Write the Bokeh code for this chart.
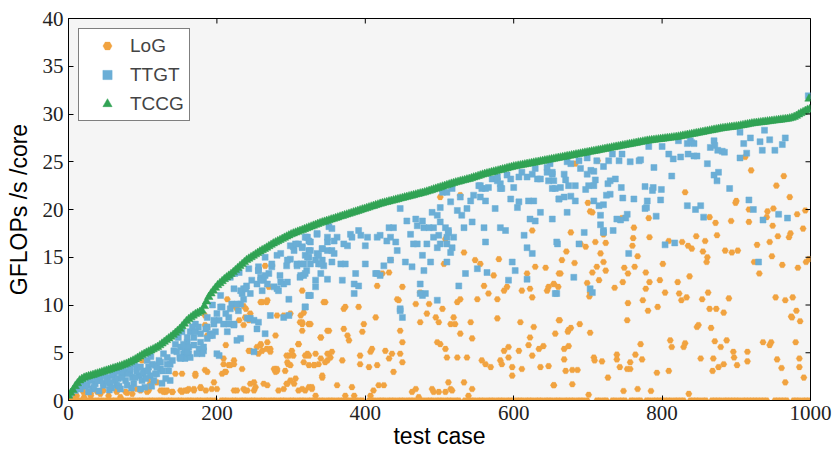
import math
from bokeh.plotting import figure
from bokeh.models import Range1d, FixedTicker, ColumnDataSource
from bokeh.embed import file_html
from bokeh.resources import INLINE

# ---------------- data ----------------
x_ticks = [0, 200, 400, 600, 800, 1000]
y_ticks = [0, 5, 10, 15, 20, 25, 30, 35, 40]

# TCCG: one value every 3 test cases (0..999), plus the last outlier at 998
tccg_case = list(range(0, 1000, 3)) + [998]
tccg_gflops = [
    0.5, 0.8, 1.1, 1.5, 1.8, 2.1, 2.25, 2.38, 2.47, 2.54,
    2.6, 2.67, 2.75, 2.82, 2.9, 2.97, 3.05, 3.12, 3.2, 3.27,
    3.35, 3.42, 3.5, 3.57, 3.66, 3.75, 3.84, 3.94, 4.06, 4.18,
    4.3, 4.45, 4.6, 4.75, 4.88, 5.0, 5.12, 5.24, 5.36, 5.48,
    5.6, 5.78, 5.96, 6.14, 6.32, 6.5, 6.68, 6.87, 7.08, 7.29,
    7.5, 7.77, 8.04, 8.31, 8.52, 8.7, 8.88, 9.04, 9.16, 9.28,
    9.4, 9.88, 10.36, 10.84, 11.2, 11.5, 11.8, 12.07, 12.28, 12.49,
    12.7, 12.88, 13.06, 13.24, 13.44, 13.65, 13.86, 14.07, 14.28, 14.49,
    14.7, 14.85, 15.0, 15.15, 15.3, 15.45, 15.6, 15.74, 15.86, 16.0,
    16.15, 16.3, 16.44, 16.56, 16.68, 16.8, 16.92, 17.04, 17.16, 17.28,
    17.4, 17.49, 17.58, 17.67, 17.76, 17.85, 17.94, 18.03, 18.12, 18.21,
    18.3, 18.39, 18.48, 18.57, 18.65, 18.72, 18.8, 18.87, 18.95, 19.02,
    19.1, 19.17, 19.25, 19.32, 19.4, 19.47, 19.55, 19.62, 19.7, 19.77,
    19.85, 19.92, 20.0, 20.07, 20.15, 20.22, 20.3, 20.37, 20.45, 20.52,
    20.6, 20.66, 20.72, 20.78, 20.84, 20.9, 20.96, 21.02, 21.08, 21.14,
    21.2, 21.26, 21.32, 21.38, 21.44, 21.5, 21.56, 21.62, 21.68, 21.74,
    21.8, 21.87, 21.95, 22.02, 22.1, 22.17, 22.25, 22.32, 22.4, 22.47,
    22.55, 22.62, 22.7, 22.77, 22.84, 22.9, 22.96, 23.02, 23.08, 23.14,
    23.2, 23.27, 23.35, 23.42, 23.5, 23.57, 23.65, 23.72, 23.78, 23.84,
    23.9, 23.96, 24.02, 24.08, 24.14, 24.2, 24.26, 24.32, 24.38, 24.44,
    24.5, 24.54, 24.59, 24.63, 24.68, 24.72, 24.77, 24.81, 24.86, 24.9,
    24.95, 24.99, 25.04, 25.08, 25.13, 25.17, 25.22, 25.26, 25.31, 25.35,
    25.4, 25.44, 25.49, 25.53, 25.58, 25.62, 25.67, 25.71, 25.76, 25.8,
    25.85, 25.89, 25.94, 25.98, 26.03, 26.07, 26.12, 26.16, 26.21, 26.25,
    26.3, 26.34, 26.39, 26.43, 26.48, 26.52, 26.57, 26.61, 26.66, 26.7,
    26.75, 26.79, 26.84, 26.88, 26.93, 26.97, 27.02, 27.06, 27.11, 27.15,
    27.2, 27.23, 27.26, 27.29, 27.32, 27.35, 27.38, 27.41, 27.44, 27.47,
    27.5, 27.53, 27.56, 27.59, 27.63, 27.67, 27.72, 27.76, 27.81, 27.85,
    27.9, 27.94, 27.99, 28.03, 28.08, 28.12, 28.17, 28.21, 28.26, 28.3,
    28.35, 28.39, 28.44, 28.48, 28.52, 28.55, 28.58, 28.61, 28.64, 28.67,
    28.7, 28.74, 28.79, 28.83, 28.88, 28.92, 28.97, 29.01, 29.04, 29.07,
    29.1, 29.13, 29.16, 29.19, 29.22, 29.25, 29.28, 29.31, 29.34, 29.37,
    29.4, 29.43, 29.46, 29.49, 29.54, 29.6, 29.69, 29.8, 29.95, 30.08,
    30.2, 30.32, 30.44, 30.5,
    31.6,
]

ttgt_case = [
    2, 9, 14, 16, 20, 25, 29, 32, 36, 38,
    43, 47, 52, 56, 59, 63, 65, 72, 77, 79,
    83, 86, 88, 92, 95, 99, 101, 103, 108, 110,
    115, 117, 119, 122, 124, 128, 133, 135, 137, 142,
    144, 148, 151, 155, 157, 160, 164, 169, 171, 175,
    178, 182, 187, 191, 196, 200, 203, 205, 209, 214,
    216, 220, 223, 229, 232, 234, 236, 240, 245, 247,
    254, 256, 259, 263, 268, 270, 274, 277, 281, 285,
    294, 299, 303, 308, 312, 321, 321, 324, 18, 23,
    30, 34, 39, 43, 47, 52, 56, 61, 67, 68,
    72, 75, 80, 83, 90, 92, 97, 101, 104, 107,
    113, 117, 119, 124, 127, 131, 133, 137, 140, 146,
    150, 157, 162, 27, 41, 55, 70, 85, 97, 112,
    126, 58, 49, 66, 74, 89, 106, 111, 153, 160,
    167, 171, 178, 185, 191, 198, 187, 196, 194, 207,
    212, 216, 223, 218, 227, 205, 232, 223, 218, 224,
    230, 239, 236, 245, 250, 256, 241, 254, 265, 232,
    250, 243, 256, 259, 265, 261, 256, 265, 274, 281,
    286, 286, 283, 290, 295, 297, 295, 299, 306, 304,
    310, 315, 308, 313, 313, 317, 324, 326, 319, 335,
    333, 335, 333, 324, 319, 322, 326, 342, 342, 337,
    344, 349, 349, 349, 351, 155, 162, 169, 176, 182,
    180, 173, 164, 160, 151, 187, 194, 200, 203, 227,
    272, 290, 297, 319, 335, 324, 315, 326, 342, 337,
    322, 317, 340, 319, 340, 333, 324, 326, 319, 349,
    355, 362, 358, 355, 358, 371, 376, 380, 382, 394,
    391, 367, 373, 355, 387, 385, 391, 385, 400, 403,
    400, 369, 416, 420, 429, 434, 441, 443, 434, 425,
    414, 420, 432, 438, 447, 456, 461, 468, 470, 477,
    479, 465, 470, 477, 454, 463, 479, 474, 481, 477,
    497, 447, 450, 488, 490, 497, 501, 492, 501, 508,
    512, 492, 501, 510, 519, 517, 515, 510, 504, 510,
    515, 517, 524, 528, 530, 533, 542, 544, 537, 546,
    553, 557, 562, 555, 562, 560, 562, 566, 571, 578,
    575, 582, 584, 582, 589, 591, 596, 600, 596, 607,
    605, 611, 618, 625, 632, 636, 645, 652, 647, 656,
    661, 620, 627, 622, 629, 636, 652, 614, 618, 625,
    658, 598, 602, 593, 618, 658, 564, 551, 535, 526,
    474, 447, 649, 645, 629, 607, 582, 578, 555, 483,
    486, 499, 497, 510, 512, 416, 652, 654, 652, 663,
    668, 670, 672, 677, 688, 690, 699, 699, 704, 708,
    710, 701, 708, 697, 683, 674, 661, 668, 677, 683,
    672, 708, 715, 721, 717, 717, 721, 730, 712, 721,
    728, 733, 746, 757, 769, 742, 737, 730, 727, 725,
    745, 747, 762, 753, 751, 744, 739, 695, 688, 659,
    681, 656, 703, 706, 755, 734, 721, 789, 777, 788,
    787, 799, 798, 780, 777, 779, 792, 804, 817, 813,
    771, 782, 800, 809, 815, 825, 835, 843, 847, 822,
    834, 838, 840, 843, 834, 845, 852, 856, 861, 865,
    870, 871, 875, 881, 884, 870, 876, 874, 891, 905,
    914, 910, 919, 932, 938, 935, 945, 952, 962, 966,
    917, 923, 930, 936, 957, 969, 905, 997,
]
ttgt_gflops = [
    0.7, 1.05, 1.75, 1.2, 2.1, 1.6, 2.1, 1.2, 1.75, 2.4,
    2.1, 1.6, 2.4, 1.75, 2.6, 2.1, 1.6, 2.8, 2.1, 1.6,
    3.0, 2.4, 1.75, 3.5, 2.6, 2.1, 3.1, 1.4, 3.5, 2.6,
    2.1, 3.7, 2.8, 4.2, 3.3, 4.9, 3.8, 3.1, 2.1, 5.2,
    5.9, 6.6, 5.6, 4.9, 4.4, 6.1, 7.2, 6.6, 8.0, 7.7,
    6.1, 5.2, 7.7, 6.8, 8.0, 9.1, 8.4, 9.8, 8.0, 7.2,
    8.7, 10.1, 8.0, 9.4, 10.1, 11.2, 11.7, 12.0, 11.2, 12.6,
    12.2, 13.6, 12.9, 12.6, 12.2, 13.3, 14.0, 11.9, 11.7, 13.1,
    14.1, 14.8, 16.1, 14.3, 12.9, 13.6, 17.1, 15.7, 1.9, 1.5,
    2.3, 1.4, 2.1, 2.6, 1.8, 2.0, 1.9, 2.8, 2.3, 1.5,
    2.4, 3.0, 2.8, 3.3, 2.4, 3.1, 3.5, 2.8, 2.3, 3.1,
    3.8, 2.8, 3.5, 4.0, 3.1, 2.3, 4.5, 3.8, 4.2, 5.1,
    4.5, 5.4, 4.9, 0.9, 1.0, 1.1, 1.2, 1.3, 1.2, 1.5,
    1.8, 1.3, 2.7, 3.0, 3.4, 3.8, 4.2, 4.6, 7.2, 6.6,
    7.7, 7.2, 7.0, 7.5, 7.0, 7.2, 8.7, 8.4, 10.0, 9.8,
    9.1, 8.0, 7.9, 9.6, 10.1, 11.0, 11.5, 11.7, 12.9, 13.3,
    13.4, 11.7, 10.6, 8.6, 8.4, 8.2, 8.6, 7.5, 7.0, 6.5,
    5.1, 13.8, 14.0, 12.6, 13.1, 11.5, 13.6, 15.0, 14.3, 15.2,
    15.4, 12.4, 11.5, 12.2, 12.4, 10.6, 14.7, 16.2, 16.4, 15.7,
    16.4, 16.1, 14.1, 14.3, 13.1, 13.1, 15.0, 14.3, 15.2, 17.5,
    14.7, 15.4, 11.9, 11.0, 9.8, 17.1, 16.6, 15.9, 14.7, 14.3,
    14.1, 16.6, 15.7, 12.7, 18.2, 5.9, 5.6, 5.8, 5.4, 5.6,
    4.9, 4.9, 4.5, 5.1, 4.4, 6.5, 6.8, 4.9, 4.7, 6.3,
    8.9, 8.7, 8.9, 17.1, 17.4, 16.7, 16.0, 15.7, 15.9, 15.2,
    15.0, 14.3, 14.3, 13.3, 13.3, 12.6, 11.0, 11.0, 9.8, 17.1,
    18.0, 17.1, 16.7, 15.7, 15.4, 16.4, 16.2, 17.4, 17.1, 17.3,
    17.8, 14.3, 14.3, 14.5, 13.3, 12.2, 12.0, 11.2, 16.2, 17.1,
    14.3, 12.6, 17.1, 17.3, 16.7, 17.1, 16.6, 15.7, 14.7, 14.1,
    13.3, 13.1, 18.1, 18.1, 20.1, 18.8, 17.4, 19.0, 18.3, 18.8,
    18.1, 16.4, 16.4, 15.2, 14.5, 14.0, 13.6, 12.2, 11.2, 11.0,
    10.5, 9.4, 8.7, 14.5, 19.7, 19.4, 20.2, 18.1, 18.7, 18.1,
    17.8, 17.1, 16.4, 17.1, 17.1, 16.0, 15.5, 14.5, 21.8, 21.8,
    20.8, 22.2, 19.9, 21.3, 19.4, 18.1, 20.9, 18.7, 20.1, 21.5,
    22.5, 22.2, 22.2, 21.3, 20.9, 18.1, 16.6, 22.3, 23.2, 23.0,
    20.1, 22.7, 22.2, 18.1, 17.8, 23.6, 23.2, 22.3, 21.1, 20.8,
    20.2, 23.9, 23.4, 23.7, 23.2, 23.2, 23.9, 23.7, 23.0, 22.2,
    21.1, 20.9, 20.9, 19.0, 18.8, 19.7, 19.0, 17.3, 16.0, 15.4,
    16.6, 14.5, 13.6, 12.6, 12.7, 11.2, 13.4, 13.8, 13.3, 12.0,
    11.2, 9.6, 24.8, 24.4, 24.3, 23.4, 22.2, 23.4, 22.5, 16.4,
    18.1, 17.3, 16.0, 16.4, 17.6, 13.3, 23.9, 23.0, 22.2, 22.3,
    23.7, 23.1, 25.0, 24.8, 25.1, 24.3, 25.4, 23.7, 24.1, 24.0,
    23.1, 22.5, 22.5, 22.1, 22.5, 22.5, 21.1, 21.3, 21.4, 20.9,
    19.7, 20.9, 20.4, 20.5, 19.4, 18.4, 17.8, 21.6, 25.1, 24.5,
    25.1, 25.8, 25.8, 25.0, 25.1, 25.1, 23.2, 23.0, 22.7, 21.5,
    22.3, 21.2, 21.1, 19.5, 19.1, 18.9, 19.0, 17.6, 16.4, 16.4,
    12.9, 11.2, 11.7, 11.3, 15.4, 17.8, 17.6, 24.4, 22.4, 22.3,
    22.0, 22.1, 21.0, 20.9, 20.1, 20.2, 19.3, 16.3, 16.5, 23.5,
    25.2, 26.6, 26.6, 25.8, 25.3, 25.5, 25.8, 25.6, 25.6, 27.2,
    26.9, 27.2, 27.0, 26.9, 20.4, 20.0, 20.4, 19.2, 24.8, 26.5,
    27.2, 26.7, 26.2, 26.1, 26.0, 23.6, 23.9, 23.0, 22.2, 25.4,
    25.9, 26.9, 27.5, 27.1, 28.3, 26.2, 27.3, 26.2, 26.8, 27.5,
    21.0, 20.0, 14.5, 18.9, 19.5, 19.1, 28.1, 31.9,
]

# LoG: test cases where LoG reaches 0 GFLOPs/s/core
log_zero_case = [
    0, 4, 8, 12, 16, 21, 25, 29, 33, 38, 42, 46, 51, 55, 59, 63, 68, 72, 76, 81,
    85, 89, 94, 98, 102, 107, 111, 115, 120, 124, 128, 133, 137, 141, 146, 150, 154, 159, 163, 167,
    172, 176, 180, 185, 189, 193, 198, 206, 210, 214, 219, 223, 227, 232, 236, 240, 245, 249, 253, 258,
    262, 266, 271, 275, 279, 284, 288, 292, 297, 301, 305, 310, 314, 318, 323, 327, 331, 336, 340, 344,
    349, 353, 357, 362, 366, 370, 375, 379, 383, 388, 392, 396, 405, 409, 413, 418, 422, 426, 431, 435,
    439, 444, 448, 452, 457, 461, 465, 470, 474, 478, 483, 487, 491, 496, 500, 504, 509, 513, 517, 522,
    526, 534, 539, 543, 547, 552, 556, 560, 565, 569, 573, 578, 582, 586, 591, 595, 599, 604, 608, 612,
    617, 621, 625, 630, 634, 638, 643, 647, 651, 656, 660, 664, 669, 673, 677, 681, 686, 690, 694, 699,
    712, 716, 721, 725, 733, 737, 742, 746, 750, 758, 762, 767, 771, 779, 783, 788, 792, 796, 800, 804,
    808, 812, 817, 821, 825, 829, 838, 842, 846, 850, 855, 859, 867, 871, 875, 879, 884, 888, 892, 896,
    900, 904, 909, 913, 917, 921, 925, 929, 933, 937, 941, 952, 956, 960, 964, 968, 977, 981, 985, 990,
    994, 998,
]

# LoG: cases with a non-zero result
log_case = [
    11, 20, 30, 34, 43, 54, 65, 70, 79, 92, 99, 108, 110, 128, 131, 140, 144, 151, 160, 169,
    171, 178, 184, 184, 184, 187, 193, 209, 211, 216, 223, 223, 236, 238, 243, 245, 238, 223, 250, 261,
    267, 272, 261, 267, 265, 259, 279, 281, 279, 294, 299, 294, 296, 303, 310, 312, 315, 317, 324, 310,
    153, 171, 187, 169, 160, 178, 185, 196, 200, 207, 212, 218, 223, 234, 227, 236, 245, 250, 209, 212,
    187, 214, 227, 239, 236, 230, 245, 243, 254, 259, 268, 272, 256, 259, 268, 274, 270, 281, 290, 299,
    313, 315, 324, 340, 344, 349, 349, 337, 331, 324, 317, 301, 297, 295, 292, 281, 279, 310, 299, 324,
    342, 328, 319, 304, 295, 290, 268, 263, 252, 241, 283, 306, 277,
    315, 315, 326, 349, 351, 371, 376, 378, 398, 396, 391, 371, 373, 346, 340, 319, 322, 331, 333, 340,
    342, 346, 351, 353, 355, 369, 393, 393, 405, 409, 407, 416, 427, 432, 436, 438, 447, 450, 447, 450,
    445, 443, 450, 414, 416, 434, 423, 432, 468, 474, 483, 486, 474, 495, 499, 504, 519, 521, 515, 524,
    528, 533, 508, 506, 528, 501, 497, 501, 508, 510, 524, 537, 528, 542, 544, 551, 548, 555, 560, 566,
    578, 580, 573, 587, 591, 578, 593, 587, 582, 584, 569, 557, 562, 598, 593, 598, 609, 607, 611, 611,
    622, 625, 627, 622, 620, 625, 634, 636, 640, 625, 618, 629, 643, 645, 647, 654, 661, 661, 654, 647,
    315, 324, 328, 333, 362, 373, 382, 385, 407, 411, 418, 425, 463, 468, 472, 490, 492, 499, 508, 515,
    517, 512, 533, 539, 544,
    683, 713, 700, 703, 677, 671, 665, 682, 663, 654, 660, 690, 697, 710, 717, 724, 721, 721, 712, 724,
    706, 715, 699, 703, 702, 706, 746, 762, 761, 760, 767, 763, 749, 754, 747, 736, 753, 778, 783, 782,
    774, 778, 783, 781, 794, 797, 804, 801, 809, 821, 823, 826, 833, 837, 827, 835, 840, 831, 846, 858,
    855, 861, 860, 874, 872, 864, 854, 862, 864, 873, 883, 890, 885, 894, 902, 893, 899, 900, 912, 920,
    917, 917, 928, 924, 931, 941, 942, 949, 950, 945, 948, 956, 962, 964, 954, 972, 973, 971, 982, 983,
    990, 993, 994, 998, 953, 966, 976, 981, 974, 975, 986, 980, 947, 945, 936, 955, 961, 966, 985, 985,
    991, 915, 915, 896, 897, 901, 883, 876, 868, 869, 879, 887, 871, 852, 847, 849, 866, 836, 829, 831,
    813, 811, 809, 793, 785, 771, 767, 773, 764, 757, 757, 753, 748, 743, 739, 739, 719, 708, 709, 727,
    701, 703, 689, 677, 674, 673, 662, 656, 668, 674, 668, 670, 679, 686, 679, 654, 754,
    65, 77, 86, 97, 106, 108, 124, 128, 133, 140, 153, 157, 162, 119, 108, 39, 47, 30, 21, 5,
]
log_gflops = [
    0.5, 0.9, 0.5, 1.2, 0.7, 0.5, 1.05, 0.35, 0.8, 1.2, 4.2, 1.05, 1.75, 1.05, 0.9, 0.9, 2.8, 1.05, 1.05, 1.2,
    2.6, 1.3, 3.2, 8.9, 7.9, 6.8, 1.2, 3.8, 3.0, 3.7, 4.2, 9.9, 9.9, 8.7, 8.4, 5.2, 1.05, 1.05, 1.05, 5.2,
    5.4, 5.1, 10.3, 10.3, 14.1, 5.9, 3.3, 3.1, 6.8, 1.75, 2.1, 4.7, 3.8, 4.7, 5.9, 8.2, 11.5, 9.2, 8.0, 1.05,
    2.8, 2.8, 3.0, 1.05, 1.05, 1.4, 1.05, 1.9, 1.2, 2.8, 3.0, 3.7, 3.8, 3.3, 1.05, 1.2, 1.75, 1.9, 4.4, 5.8,
    7.7, 10.6, 9.6, 9.6, 7.9, 8.4, 9.1, 5.2, 5.6, 5.8, 6.1, 5.4, 4.9, 10.3, 10.5, 14.1, 11.9, 8.9, 8.9, 9.1,
    8.9, 8.0, 8.0, 6.6, 10.3, 4.9, 4.2, 3.8, 3.7, 4.7, 4.0, 5.2, 4.7, 4.0, 3.1, 3.3, 3.0, 5.9, 3.7, 3.7,
    2.4, 1.2, 1.05, 1.75, 1.75, 1.2, 1.6, 1.75, 1.4, 1.05, 1.05, 2.3, 3.3,
    8.2, 7.3, 8.0, 7.3, 7.3, 7.5, 6.8, 6.3, 8.0, 7.2, 9.8, 9.6, 9.8, 10.3, 6.6, 4.7, 4.9, 3.7, 4.9, 4.4,
    2.6, 4.0, 4.9, 4.5, 5.1, 4.2, 4.7, 3.8, 3.5, 5.4, 5.1, 3.7, 5.2, 4.4, 4.9, 3.0, 4.9, 4.0, 7.3, 6.1,
    10.5, 10.6, 11.9, 8.7, 12.0, 14.7, 13.3, 13.4, 10.1, 11.3, 9.1, 10.1, 8.2, 8.7, 8.2, 9.6, 8.7, 8.0, 8.0, 10.3,
    10.6, 15.5, 16.9, 14.3, 21.5, 21.3, 6.1, 5.9, 5.4, 4.5, 4.5, 4.5, 7.0, 8.2, 6.5, 10.6, 14.7, 14.3, 12.0, 11.2,
    10.6, 14.8, 13.1, 11.5, 11.9, 8.6, 5.6, 5.2, 4.2, 3.8, 3.5, 4.2, 3.8, 3.5, 4.5, 2.6, 8.2, 5.2, 3.3, 11.5,
    11.7, 10.8, 7.7, 6.6, 5.8, 4.7, 5.4, 3.5, 5.7, 17.8, 13.3, 14.0, 13.9, 11.5, 11.9, 12.2, 13.3, 8.4, 1.6, 3.6,
    1.2, 1.4, 1.4, 0.5, 1.6, 0.5, 1.4, 0.5, 0.5, 1.05, 1.6, 1.6, 0.9, 1.2, 0.35, 1.2, 0.9, 0.9, 0.9, 1.2,
    1.05, 1.9, 1.9, 0.5, 1.2,
    24.8, 25.1, 20.7, 19.8, 17.6, 15.6, 14.7, 14.4, 13.3, 12.2, 11.9, 16.4, 16.1, 16.6, 15.4, 16.5, 17.4, 14.5, 14.0, 13.6,
    13.4, 12.6, 12.3, 11.3, 10.9, 19.7, 19.1, 18.1, 17.0, 16.2, 15.1, 14.0, 13.9, 13.3, 12.4, 11.8, 8.4, 13.4, 17.1, 19.1,
    10.5, 11.7, 12.4, 9.4, 9.8, 12.6, 11.3, 14.3, 16.7, 12.4, 11.2, 10.5, 10.8, 13.0, 16.6, 16.2, 15.9, 21.8, 17.2, 16.7,
    15.6, 15.0, 14.5, 17.3, 18.6, 19.2, 10.6, 11.3, 9.6, 9.6, 9.2, 10.7, 15.7, 15.5, 15.7, 18.8, 20.7, 20.9, 25.5, 24.1,
    20.0, 18.7, 16.3, 14.5, 13.3, 19.2, 19.8, 18.3, 20.1, 16.6, 15.1, 17.2, 14.2, 23.5, 22.5, 21.3, 17.5, 17.1, 19.5, 13.9,
    18.0, 19.9, 14.5, 14.8, 10.8, 10.5, 10.8, 9.4, 8.8, 8.7, 8.3, 6.1, 6.1, 5.8, 6.1, 4.3, 3.4, 1.9, 4.4, 3.5,
    2.4, 5.1, 4.1, 5.1, 4.5, 3.7, 3.8, 3.5, 3.1, 4.4, 5.6, 6.3, 6.2, 4.4, 7.7, 7.9, 7.6, 0.7, 5.6, 6.0,
    5.6, 6.3, 3.1, 2.9, 1.0, 5.9, 1.2, 4.3, 4.8, 4.0, 3.3, 3.3, 1.0, 3.5, 4.3, 4.8, 4.1, 4.5, 4.2, 2.4,
    0.6, 7.1, 8.0, 7.6, 7.4, 7.2, 8.4, 7.0, 5.4, 5.7, 4.3, 3.1, 3.2, 3.2, 1.7, 1.6, 10.2,
    0.9, 0.9, 0.7, 1.05, 0.9, 1.2, 1.05, 0.9, 1.05, 0.9, 0.9, 1.05, 1.2, 1.9, 2.3, 0.9, 1.05, 0.7, 0.35, 0.3,
]

# ---------------- figure ----------------
ORANGE = "#f1a340"
BLUE = "#6baed6"
GREEN = "#31a354"
SERIF = "Liberation Serif, Times New Roman, serif"
SANS = "Liberation Sans, Arial, sans-serif"

p = figure(
    width=834, height=453,
    x_range=Range1d(0, 1000), y_range=Range1d(0, 40),
    output_backend="svg", toolbar_location=None,
    min_border_left=68, min_border_right=24, min_border_top=18, min_border_bottom=53,
    background_fill_color="#f5f5f5", border_fill_color="white",
)
p.outline_line_color = "black"
p.outline_line_width = 1
p.xgrid.visible = False
p.ygrid.visible = False

log_src = ColumnDataSource(dict(x=log_zero_case + log_case,
                                y=[0.0] * len(log_zero_case) + log_gflops))
p.scatter("x", "y", source=log_src, marker="hex", size=6.5,
          fill_color=ORANGE, line_color=ORANGE, line_width=0.3, legend_label="LoG")
p.scatter(ttgt_case, ttgt_gflops, marker="square", size=6,
          fill_color=BLUE, line_color=BLUE, line_width=0.5, legend_label="TTGT")
p.scatter(tccg_case, tccg_gflops, marker="triangle", size=8.5,
          fill_color=GREEN, line_color=GREEN, line_width=0.5, legend_label="TCCG")

# inward tick marks on the top and right frame edges (half of each dash is clipped by the frame)
p.scatter(x_ticks, [y_ticks[-1]] * len(x_ticks), marker="dash", size=10, angle=math.pi / 2,
          line_color="black", line_width=1)
p.scatter([x_ticks[-1]] * len(y_ticks), y_ticks, marker="dash", size=10,
          line_color="black", line_width=1)

for ax, ticks in ((p.xaxis[0], x_ticks), (p.yaxis[0], y_ticks)):
    ax.ticker = FixedTicker(ticks=ticks)
    ax.major_tick_in = 5
    ax.major_tick_out = 0
    ax.minor_tick_in = 0
    ax.minor_tick_out = 0
    ax.major_tick_line_color = "black"
    ax.axis_line_color = "black"
    ax.major_label_text_font = SERIF
    ax.major_label_text_font_size = "21px"
    ax.major_label_text_color = "#222222"
    ax.axis_label_text_font = SANS
    ax.axis_label_text_font_size = "23px"
    ax.axis_label_text_font_style = "normal"
    ax.axis_label_text_color = "black"

p.xaxis.axis_label = "test case"
p.yaxis.axis_label = "GFLOPs /s /core"
p.xaxis.major_label_standoff = 5
p.yaxis.major_label_standoff = 5
p.xaxis.axis_label_standoff = 0
p.yaxis.axis_label_standoff = 8

lg = p.legend[0]
lg.location = "top_left"
lg.margin = 10
lg.padding = 5
lg.spacing = 6
lg.glyph_width = 46
lg.glyph_height = 23
lg.label_height = 23
lg.label_standoff = 0
lg.label_text_font = SANS
lg.label_text_font_size = "19px"
lg.border_line_color = "black"
lg.border_line_width = 1
lg.background_fill_color = "white"
lg.background_fill_alpha = 1.0

open("out.html", "w").write(file_html(p, INLINE))
